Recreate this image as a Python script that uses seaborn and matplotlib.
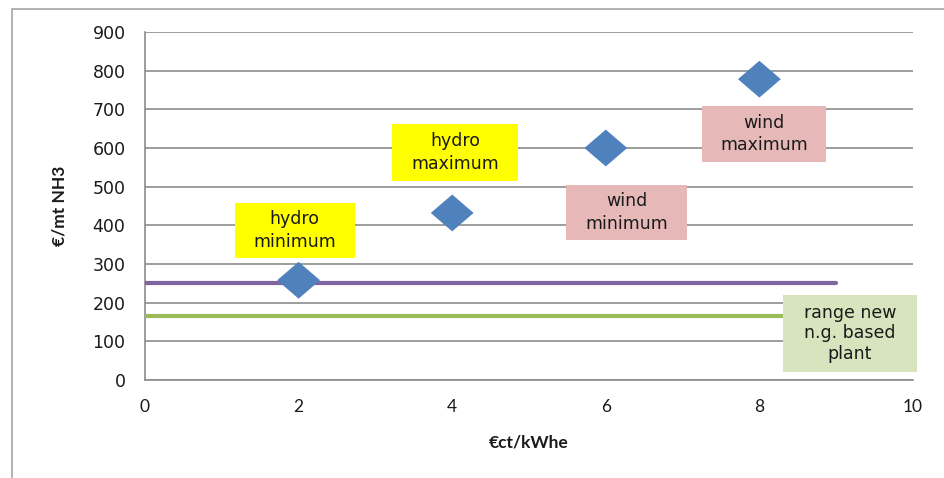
import matplotlib
matplotlib.use("Agg")
import matplotlib.pyplot as plt
import seaborn as sns
import pandas as pd
from matplotlib.patches import Rectangle

# ---- data ----
costs = [2, 4, 6, 8]                      # €ct/kWhe
nh3_cost = [258, 432, 600, 778]           # €/mt NH3
point_labels = ["hydro\nminimum", "hydro\nmaximum", "wind\nminimum", "wind\nmaximum"]
ng_range_x = [0, 9]
ng_high = [250, 250]
ng_low = [165, 165]
ng_label = "range new\nn.g. based\nplant"
x_ticks = [0, 2, 4, 6, 8, 10]
y_ticks = [0, 100, 200, 300, 400, 500, 600, 700, 800, 900]

# ---- layout (box extents in data coords: x0, x1, y0, y1) ----
label_boxes = [(1.17, 2.73, 315, 458), (3.22, 4.86, 515, 662),
               (5.48, 7.06, 362, 504), (7.25, 8.87, 564, 709)]
label_colors = ["#FFFF00", "#FFFF00", "#E6B9B8", "#E6B9B8"]
ng_box = (8.31, 10.05, 21, 220)
ng_color = "#D7E4BD"

sns.set_theme(style="white")
plt.rcParams['font.family'] = ['DejaVu Sans']

fig = plt.figure(figsize=(9.44, 4.78), dpi=100)
ax = fig.add_axes([145/944, 1-380/478, (913-145)/944, (380-32)/478])

# outer chart frame
fig.add_artist(Rectangle((12/944, -0.1), 1.2, 1 - 9/478 + 0.1, transform=fig.transFigure,
                         fill=False, edgecolor="#A6A6A6", linewidth=1.2))

df_lines = pd.DataFrame({"x": ng_range_x * 2, "y": ng_high + ng_low,
                         "s": ["high"] * 2 + ["low"] * 2})
sns.lineplot(data=df_lines, x="x", y="y", hue="s",
             palette={"high": "#8064A2", "low": "#9BBB59"},
             linewidth=3, legend=False, ax=ax, zorder=3)

df_pts = pd.DataFrame({"x": costs, "y": nh3_cost})
diamond = [(-1, 0), (0, 0.86), (1, 0), (0, -0.86), (-1, 0)]
sns.scatterplot(data=df_pts, x="x", y="y", marker=diamond, s=950,
                color="#4F81BD", edgecolor="none", ax=ax, zorder=4)

for (x0, x1, y0, y1), c, t in zip(label_boxes, label_colors, point_labels):
    ax.add_patch(Rectangle((x0, y0), x1 - x0, y1 - y0, facecolor=c, edgecolor="none", zorder=5))
    ax.text((x0 + x1) / 2, (y0 + y1) / 2, t, ha="center", va="center",
            fontsize=12.5, color="#1a1a1a", zorder=6, linespacing=1.3)

x0, x1, y0, y1 = ng_box
ax.add_patch(Rectangle((x0, y0), x1 - x0, y1 - y0, facecolor=ng_color,
                       edgecolor="none", zorder=5, clip_on=False))
ax.text((x0 + x1) / 2, (y0 + y1) / 2, ng_label, ha="center", va="center",
        fontsize=12.5, color="#1a1a1a", zorder=6, linespacing=1.2, clip_on=False)

ax.set_xlim(0, 10)
ax.set_ylim(0, 900)
ax.set_xticks(x_ticks)
ax.set_yticks(y_ticks)
ax.set_xticklabels([str(t) for t in x_ticks], fontsize=12.5, family="Lato")
ax.set_yticklabels([str(t) for t in y_ticks], fontsize=12.5)
ax.yaxis.grid(True, color="#8C8C8C", linewidth=1.2)
ax.xaxis.grid(False)
for s in ["top", "right"]:
    ax.spines[s].set_visible(False)
for s in ["left", "bottom"]:
    ax.spines[s].set_color("#8C8C8C")
    ax.spines[s].set_linewidth(1.2)
ax.tick_params(axis="y", direction="out", length=8, width=1.2, color="#8C8C8C", pad=6, labelcolor="#1a1a1a")
ax.tick_params(axis="x", direction="out", length=6, width=1.2, color="#8C8C8C", pad=8, labelcolor="#1a1a1a")
ax.set_axisbelow(True)

ax.set_xlabel("€ct/kWhe", fontsize=12.5, fontweight="bold", family="Lato", labelpad=14, color="#1a1a1a")
ax.set_ylabel("€/mt NH3", fontsize=12.5, fontweight="bold", family="Lato", labelpad=18, color="#1a1a1a")

fig.savefig("out.png", dpi=100)
